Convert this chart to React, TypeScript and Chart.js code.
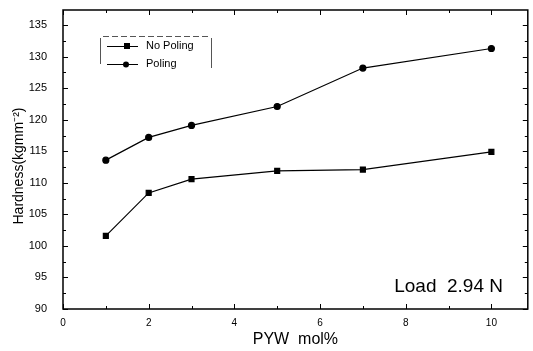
import React, { useEffect, useRef } from "react";
import { Chart, registerables } from "chart.js";

Chart.register(...registerables);

const xValues = [1, 2, 3, 5, 7, 10];
const noPoling = [101.6, 108.4, 110.6, 111.9, 112.1, 114.9];
const poling = [113.6, 117.2, 119.1, 122.1, 128.2, 131.3];
const seriesNames = ["No Poling", "Poling"];
const xTicks = [0, 2, 4, 6, 8, 10];
const yTicks = [90, 95, 100, 105, 110, 115, 120, 125, 130, 135];
const xTitle = "PYW  mol%";
const yTitle = "Hardness(kgmm\u207B\u00B2)";
const annotation = "Load  2.94 N";

const FONT = "'Liberation Sans', Arial, sans-serif";

const framePlugin = {
  id: "frame",
  afterDraw(chart: any) {
    const ctx = chart.ctx;
    const { left, right, top, bottom } = chart.chartArea;
    const xs = chart.scales.x;
    const ys = chart.scales.y;
    ctx.save();
    ctx.strokeStyle = "#000";
    ctx.lineWidth = 1.5;
    ctx.strokeRect(left, top, right - left, bottom - top);
    ctx.lineWidth = 1;
    for (let v = 0; v <= 10; v += 1) {
      const px = Math.round(xs.getPixelForValue(v)) + 0.5;
      const len = v % 2 === 0 ? 5 : 3;
      ctx.beginPath();
      ctx.moveTo(px, bottom);
      ctx.lineTo(px, bottom - len);
      ctx.moveTo(px, top);
      ctx.lineTo(px, top + len);
      ctx.stroke();
    }
    for (let v = 90; v <= 137; v += 2.5) {
      const py = Math.round(ys.getPixelForValue(v)) + 0.5;
      const len = v % 5 === 0 ? 5 : 3;
      ctx.beginPath();
      ctx.moveTo(left, py);
      ctx.lineTo(left + len, py);
      ctx.moveTo(right, py);
      ctx.lineTo(right - len, py);
      ctx.stroke();
    }
    ctx.fillStyle = "#000";
    ctx.font = `16px ${FONT}`;
    ctx.textAlign = "center";
    ctx.textBaseline = "middle";
    ctx.fillText(xTitle, (left + right) / 2, 340);
    ctx.save();
    ctx.translate(19, 166);
    ctx.rotate(-Math.PI / 2);
    ctx.font = `14px ${FONT}`;
    ctx.fillText(yTitle, 0, 0);
    ctx.restore();
    ctx.font = `19px ${FONT}`;
    ctx.textAlign = "right";
    ctx.textBaseline = "alphabetic";
    ctx.fillText(annotation, 503, 292);
    // legend
    ctx.strokeStyle = "#555";
    ctx.lineWidth = 1;
    ctx.setLineDash([6, 3]);
    ctx.beginPath();
    ctx.moveTo(103, 36.5);
    ctx.lineTo(211, 36.5);
    ctx.stroke();
    ctx.setLineDash([]);
    ctx.beginPath();
    ctx.moveTo(100.5, 38);
    ctx.lineTo(100.5, 64);
    ctx.moveTo(211.5, 38);
    ctx.lineTo(211.5, 68);
    ctx.stroke();
    ctx.strokeStyle = "#000";
    const rows = [46, 64];
    rows.forEach((y, i) => {
      ctx.beginPath();
      ctx.moveTo(107, y + 0.5);
      ctx.lineTo(138, y + 0.5);
      ctx.stroke();
      ctx.fillStyle = "#000";
      if (i === 0) {
        ctx.fillRect(124, y - 3, 6, 6);
      } else {
        ctx.beginPath();
        ctx.arc(126, y + 0.5, 3, 0, Math.PI * 2);
        ctx.fill();
      }
      ctx.font = `11px ${FONT}`;
      ctx.textAlign = "left";
      ctx.textBaseline = "middle";
      ctx.fillText(seriesNames[i], 146, y);
    });
    ctx.restore();
  },
};

export default function App() {
  const ref = useRef<HTMLCanvasElement>(null);
  useEffect(() => {
    const chart = new Chart(ref.current!, {
      type: "scatter",
      data: {
        datasets: [
          {
            label: seriesNames[0],
            data: xValues.map((x, i) => ({ x, y: noPoling[i] })),
            showLine: true,
            borderColor: "#000",
            borderWidth: 1.2,
            backgroundColor: "#000",
            pointStyle: "rect",
            pointRadius: 3.5,
          },
          {
            label: seriesNames[1],
            data: xValues.map((x, i) => ({ x, y: poling[i] })),
            showLine: true,
            borderColor: "#000",
            borderWidth: 1.2,
            backgroundColor: "#000",
            pointStyle: "circle",
            pointRadius: 3,
          },
        ],
      },
      options: {
        responsive: false,
        animation: false,
        layout: { padding: { left: 0, right: 4, top: 10, bottom: 0 } },
        plugins: { legend: { display: false }, tooltip: { enabled: false } },
        scales: {
          x: {
            type: "linear",
            min: 0,
            max: 10.85,
            afterBuildTicks: (s: any) => {
              s.ticks = xTicks.map((v) => ({ value: v }));
            },
            afterFit: (s: any) => {
              s.height = 42;
              s.paddingLeft = 0;
              s.paddingRight = 0;
            },
            grid: { display: false },
            border: { display: false },
            ticks: {
              color: "#000",
              font: { family: FONT, size: 10 },
              padding: 0,
            },
          },
          y: {
            type: "linear",
            min: 90,
            max: 137.4,
            afterBuildTicks: (s: any) => {
              s.ticks = yTicks.map((v) => ({ value: v }));
            },
            afterFit: (s: any) => {
              s.width = 63;
              s.paddingTop = 0;
              s.paddingBottom = 0;
            },
            grid: { display: false },
            border: { display: false },
            ticks: {
              color: "#000",
              font: { family: FONT, size: 11 },
              padding: 8,
            },
          },
        },
      },
      plugins: [framePlugin],
    });
    return () => chart.destroy();
  }, []);
  return (
    <div style={{ position: "absolute", left: 0, top: 0, width: 533, height: 351, background: "#fff" }}>
      <canvas ref={ref} width={533} height={351} />
    </div>
  );
}
